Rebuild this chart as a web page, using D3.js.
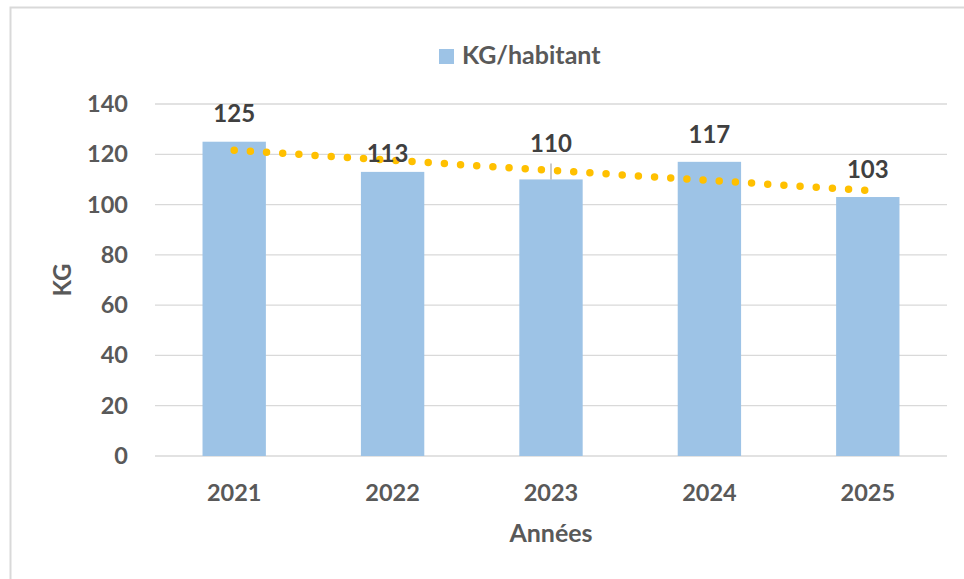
<!DOCTYPE html>
<html>
<head>
<meta charset="utf-8">
<script src="https://cdn.jsdelivr.net/npm/d3@7"></script>
<style>
  body { margin: 0; background: #fff; }
  svg { display: block; font-family: Lato, "Open Sans", sans-serif; }
</style>
</head>
<body>
<svg id="chart" width="964" height="579"></svg>
<script>
// data
const years = ["2021", "2022", "2023", "2024", "2025"];
const kgPerHab = [125, 113, 110, 117, 103];
const yTicks = [0, 20, 40, 60, 80, 100, 120, 140];
// linear trend endpoints (first and last year)
const trendEnds = [121.6, 105.6];

const width = 964, height = 579;
const margin = {top: 104, right: 17, bottom: 123, left: 155};

// data-label nudges (Excel moved some of them)
const labelLift = [20, 10, 27, 19, 19];
const labelShift = [0, -5, 0, 0, 0];

const svg = d3.select("#chart");

/*** outer frame */
svg.append("rect")
  .attr("x", 10.5).attr("y", 7.5)
  .attr("width", 960).attr("height", 580)
  .attr("fill", "none")
  .attr("stroke", "#d9d9d9")
  .attr("stroke-width", 2);

/*** scales */
const x = d3.scaleBand()
  .domain(years)
  .range([margin.left, width - margin.right])
  .paddingInner(0.6)
  .paddingOuter(0.3);

const y = d3.scaleLinear()
  .domain([0, 140])
  .range([height - margin.bottom, margin.top]);

const cx = d => x(d) + x.bandwidth() / 2;

/*** gridlines */
svg.append("g")
  .selectAll("line")
  .data(yTicks)
  .join("line")
  .attr("x1", margin.left)
  .attr("x2", width - margin.right)
  .attr("y1", d => y(d))
  .attr("y2", d => y(d))
  .attr("stroke", "#d9d9d9")
  .attr("stroke-width", 1.3);

/*** bars */
svg.append("g")
  .attr("fill", "#9dc3e6")
  .selectAll("rect")
  .data(kgPerHab)
  .join("rect")
  .attr("x", (d, i) => x(years[i]))
  .attr("width", x.bandwidth())
  .attr("y", d => y(d))
  .attr("height", d => y(0) - y(d));

/*** small leader line on the 2023 label */
svg.append("line")
  .attr("x1", cx("2023"))
  .attr("x2", cx("2023"))
  .attr("y1", y(kgPerHab[2]))
  .attr("y2", y(kgPerHab[2]) - 16)
  .attr("stroke", "#a6a6a6")
  .attr("stroke-width", 1.2);

/*** dotted trend line */
svg.append("line")
  .attr("x1", cx(years[0]))
  .attr("x2", cx(years[years.length - 1]))
  .attr("y1", y(trendEnds[0]))
  .attr("y2", y(trendEnds[1]))
  .attr("stroke", "#ffc000")
  .attr("stroke-width", 7.5)
  .attr("stroke-linecap", "round")
  .attr("stroke-dasharray", "0 16.2");

/*** axes */
const yAxis = g => g
  .attr("transform", `translate(${margin.left},0)`)
  .call(d3.axisLeft(y).tickValues(yTicks).tickSize(0).tickPadding(27))
  .call(g => g.select(".domain").remove());

const xAxis = g => g
  .attr("transform", `translate(0,${y(0)})`)
  .call(d3.axisBottom(x).tickSize(0).tickPadding(28))
  .call(g => g.select(".domain").remove());

svg.append("g").call(yAxis);
svg.append("g").call(xAxis);

svg.selectAll(".tick text")
  .attr("font-size", "23.5px")
  .attr("font-weight", "bold")
  .attr("fill", "#595959")
  .attr("font-family", "Lato, sans-serif");

/*** value labels */
svg.append("g")
  .selectAll("text")
  .data(kgPerHab)
  .join("text")
  .attr("x", (d, i) => cx(years[i]) + labelShift[i])
  .attr("y", (d, i) => y(d) - labelLift[i])
  .attr("text-anchor", "middle")
  .attr("font-size", "24px")
  .attr("font-weight", "bold")
  .attr("fill", "#404040")
  .text(d => d);

/*** axis titles */
svg.append("text")
  .attr("x", (margin.left + width - margin.right) / 2)
  .attr("y", 542)
  .attr("text-anchor", "middle")
  .attr("font-size", "25px")
  .attr("font-weight", "bold")
  .attr("fill", "#595959")
  .text("Années");

svg.append("text")
  .attr("transform", `translate(71,${(y(0) + y(140)) / 2}) rotate(-90)`)
  .attr("text-anchor", "middle")
  .attr("font-size", "24px")
  .attr("font-weight", "bold")
  .attr("fill", "#595959")
  .text("KG");

/*** legend */
const legend = svg.append("g").attr("transform", "translate(439,49)");
legend.append("rect")
  .attr("width", 15).attr("height", 15)
  .attr("fill", "#9dc3e6");
legend.append("text")
  .attr("x", 23).attr("y", 15)
  .attr("font-size", "25px")
  .attr("font-weight", "bold")
  .attr("fill", "#595959")
  .text("KG/habitant");
</script>
</body>
</html>
